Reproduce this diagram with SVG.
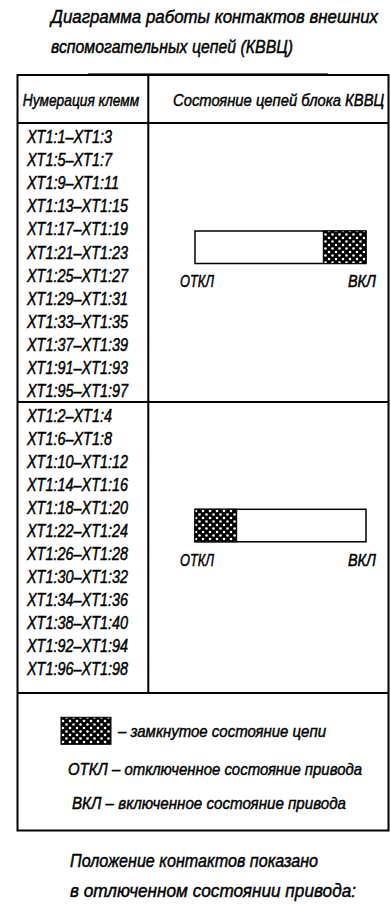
<svg xmlns="http://www.w3.org/2000/svg" width="391" height="905" viewBox="0 0 391 905">
<style>
text{font-family:"Liberation Sans","DejaVu Sans",sans-serif;font-style:italic;fill:#000;stroke:#000;stroke-width:0.45}
.t{font-size:17.5px}
.h{font-size:17px}
.r{font-size:17.5px}
.lb{font-size:16px}
.lg{font-size:16.5px}
.fn{font-size:19px}
.ln{stroke:#000;stroke-width:2;fill:none}
.bar{fill:#fff;stroke:#000;stroke-width:1.5}
.hx{fill:url(#hatch);stroke:#000;stroke-width:1}
</style>
<defs>
<pattern id="hatch" width="7" height="7" patternUnits="userSpaceOnUse">
<rect width="7" height="7" fill="#000"/>
<circle cx="0" cy="0" r="1.3" fill="#fff"/>
<circle cx="7" cy="0" r="1.3" fill="#fff"/>
<circle cx="0" cy="7" r="1.3" fill="#fff"/>
<circle cx="7" cy="7" r="1.3" fill="#fff"/>
<circle cx="3.5" cy="3.5" r="1.3" fill="#fff"/>
</pattern>
</defs>
<rect width="391" height="905" fill="#fff"/>

<g id="title">
<text class="t" x="51" y="23" textLength="327" lengthAdjust="spacingAndGlyphs">Диаграмма работы контактов внешних</text>
<text class="t" x="51" y="52.5" textLength="242" lengthAdjust="spacingAndGlyphs">вспомогательных цепей (КВВЦ)</text>
</g>

<g id="grid">
<line x1="88" y1="73.5" x2="328" y2="73.5" stroke="#666" stroke-width="1"/>
<rect class="ln" x="17.5" y="75" width="371" height="755.5"/>
<line class="ln" x1="148.3" y1="75" x2="148.3" y2="693"/>
<line class="ln" x1="17.5" y1="123" x2="388.5" y2="123"/>
<line class="ln" x1="17.5" y1="402" x2="388.5" y2="402" stroke-width="2.5"/>
<line class="ln" x1="17.5" y1="693" x2="388.5" y2="693"/>
</g>

<g id="header">
<text class="h" transform="translate(22.7 106) scale(0.81 1)" x="0" y="0">Нумерация клемм</text>
<text class="h" transform="translate(173 106) scale(0.87 1)" x="0" y="0">Состояние цепей блока КВВЦ</text>
</g>

<g id="block1-terminals" transform="scale(0.825 1)">
<text class="r" x="32.7" y="143.3">XT1:1–XT1:3</text>
<text class="r" x="32.7" y="166.35">XT1:5–XT1:7</text>
<text class="r" x="32.7" y="189.4">XT1:9–XT1:11</text>
<text class="r" x="32.7" y="212.45">XT1:13–XT1:15</text>
<text class="r" x="32.7" y="235.5">XT1:17–XT1:19</text>
<text class="r" x="32.7" y="258.55">XT1:21–XT1:23</text>
<text class="r" x="32.7" y="281.6">XT1:25–XT1:27</text>
<text class="r" x="32.7" y="304.65">XT1:29–XT1:31</text>
<text class="r" x="32.7" y="327.7">XT1:33–XT1:35</text>
<text class="r" x="32.7" y="350.75">XT1:37–XT1:39</text>
<text class="r" x="32.7" y="373.8">XT1:91–XT1:93</text>
<text class="r" x="32.7" y="396.85">XT1:95–XT1:97</text>
</g>

<g id="block1-state">
<rect class="bar" x="195" y="231" width="171" height="32.5"/>
<rect class="hx" x="323.3" y="231" width="42.7" height="32.5"/>
<text class="lb" x="180" y="287" textLength="34" lengthAdjust="spacingAndGlyphs">ОТКЛ</text>
<text class="lb" x="348" y="287" textLength="28" lengthAdjust="spacingAndGlyphs">ВКЛ</text>
</g>

<g id="block2-terminals" transform="scale(0.825 1)">
<text class="r" x="32.7" y="421.7">XT1:2–XT1:4</text>
<text class="r" x="32.7" y="444.75">XT1:6–XT1:8</text>
<text class="r" x="32.7" y="467.8">XT1:10–XT1:12</text>
<text class="r" x="32.7" y="490.85">XT1:14–XT1:16</text>
<text class="r" x="32.7" y="513.9">XT1:18–XT1:20</text>
<text class="r" x="32.7" y="536.95">XT1:22–XT1:24</text>
<text class="r" x="32.7" y="560">XT1:26–XT1:28</text>
<text class="r" x="32.7" y="583.05">XT1:30–XT1:32</text>
<text class="r" x="32.7" y="606.1">XT1:34–XT1:36</text>
<text class="r" x="32.7" y="629.15">XT1:38–XT1:40</text>
<text class="r" x="32.7" y="652.2">XT1:92–XT1:94</text>
<text class="r" x="32.7" y="675.25">XT1:96–XT1:98</text>
</g>

<g id="block2-state">
<rect class="bar" x="195" y="509.3" width="171" height="32.5"/>
<rect class="hx" x="195" y="509.3" width="41.7" height="32.5"/>
<text class="lb" x="180" y="565.5" textLength="34" lengthAdjust="spacingAndGlyphs">ОТКЛ</text>
<text class="lb" x="348" y="565.5" textLength="28" lengthAdjust="spacingAndGlyphs">ВКЛ</text>
</g>

<g id="legend">
<rect class="hx" x="61" y="717.3" width="50" height="27"/>
<text class="lg" x="118" y="737" textLength="208" lengthAdjust="spacingAndGlyphs">– замкнутое состояние цепи</text>
<text class="lg" x="68" y="775" textLength="294" lengthAdjust="spacingAndGlyphs">ОТКЛ – отключенное состояние привода</text>
<text class="lg" x="72" y="809" textLength="274" lengthAdjust="spacingAndGlyphs">ВКЛ – включенное состояние привода</text>
</g>

<g id="footnote">
<text class="fn" x="70" y="867" textLength="248" lengthAdjust="spacingAndGlyphs">Положение контактов показано</text>
<text class="fn" x="70" y="896.5" textLength="286" lengthAdjust="spacingAndGlyphs">в отлюченном состоянии привода:</text>
</g>
</svg>
